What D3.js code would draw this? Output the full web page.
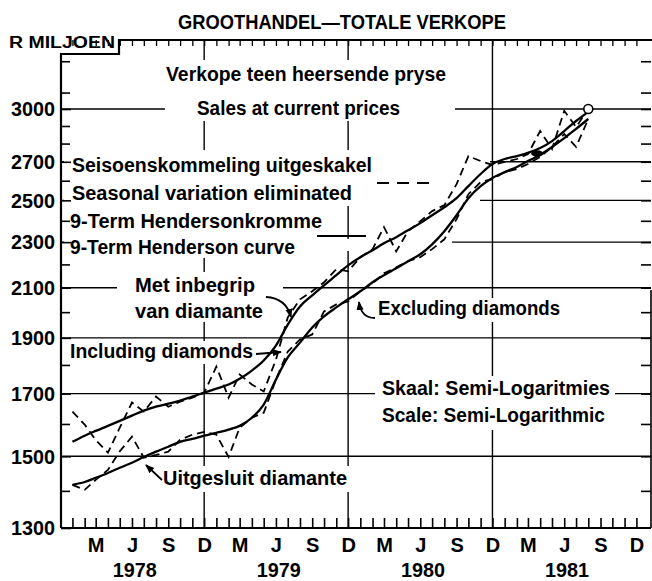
<!DOCTYPE html>
<html><head><meta charset="utf-8">
<script src="https://cdn.jsdelivr.net/npm/d3@7"></script>
<style>
body{margin:0;background:#fff;}
svg{display:block;background:#fff;}
text{font-family:"Liberation Sans",Arial,sans-serif;font-weight:bold;fill:#000;}
</style></head><body><svg id="c" width="652" height="581"></svg>
<script>
// ---------- data ----------
const months = ["1978-01","1978-02","1978-03","1978-04","1978-05","1978-06","1978-07","1978-08","1978-09","1978-10","1978-11","1978-12",
"1979-01","1979-02","1979-03","1979-04","1979-05","1979-06","1979-07","1979-08","1979-09","1979-10","1979-11","1979-12",
"1980-01","1980-02","1980-03","1980-04","1980-05","1980-06","1980-07","1980-08","1980-09","1980-10","1980-11","1980-12",
"1981-01","1981-02","1981-03","1981-04","1981-05","1981-06","1981-07","1981-08"];
// Including diamonds: seasonally adjusted (dashed) and 9-term Henderson (solid)
const inclActual = [1640,1598,1550,1511,1588,1670,1640,1690,1656,1673,1686,1703,
1794,1686,1766,1731,1707,1819,1979,2052,2085,2123,2179,2170,
2232,2268,2370,2258,2351,2398,2447,2476,2582,2731,2704,2683,
2699,2715,2742,2871,2770,2989,2894,3000];
const inclTrend = [1544,1563,1578,1594,1610,1627,1643,1656,1666,1676,1690,1703,
1717,1731,1751,1780,1816,1871,1951,2023,2068,2110,2153,2196,
2232,2263,2295,2323,2355,2389,2427,2466,2511,2572,2635,2688,
2715,2731,2748,2775,2814,2871,2929,2983];
// Excluding diamonds
const exclActual = [1417,1403,1431,1460,1515,1560,1496,1504,1514,1550,1566,1575,
1566,1498,1588,1620,1636,1748,1849,1894,1913,2003,2031,2043,
2085,2118,2161,2187,2214,2232,2268,2313,2408,2531,2593,2608,
2645,2661,2688,2726,2781,2854,2781,2941];
const exclTrend = [1417,1425,1437,1451,1466,1481,1498,1514,1529,1544,1553,1563,
1572,1582,1594,1620,1663,1748,1827,1882,1940,1983,2019,2052,
2085,2123,2153,2183,2214,2245,2290,2351,2427,2511,2572,2614,
2645,2672,2704,2737,2781,2831,2883,2941];
const yLabels = [1300,1500,1700,1900,2100,2300,2500,2700,3000];
const yMinor = [1400,1600,1800,2000,2200,2400,2600,2800,2900,3100,3300];
const monthLetters = {2:"M",5:"J",8:"S",11:"D"};
const years = ["1978","1979","1980","1981"];

// ---------- setup ----------
const svg = d3.select("#c");
const parse = d3.timeParse("%Y-%m");
const dates = months.map(parse);
const x = d3.scaleTime().domain([new Date(1977,11,1), new Date(1982,0,7)]).range([60.2, 651]);
const y = d3.scaleLog().domain([1300,3000]).range([528,109]);
const L = 61, R = 651, B = 528, T = 40;

const defs = svg.append("defs");
defs.append("marker").attr("id","ah").attr("viewBox","0 0 10 10").attr("refX",9).attr("refY",5)
  .attr("markerUnits","userSpaceOnUse").attr("markerWidth",9).attr("markerHeight",9).attr("orient","auto")
  .append("path").attr("d","M0,1L10,5L0,9Z").attr("fill","#000");

// ---------- grid ----------
const grid = svg.append("g").attr("stroke","#000").attr("stroke-width",1.4);
yLabels.filter(v => v > 1300).forEach(v => {
  grid.append("line").attr("x1",L).attr("x2",R).attr("y1",y(v)).attr("y2",y(v));
});
[new Date(1978,11,1), new Date(1979,11,1), new Date(1980,11,1)].forEach(d => {
  grid.append("line").attr("x1",x(d)).attr("x2",x(d)).attr("y1",T).attr("y2",B);
});
// white patches where the lettering was pasted over the grid
const patches = [[165,60,455,121],[64,150,490,178],[64,178,480,206],[64,206,330,258],[330,239,452,251],
  [117,272,283,322],[66,341,256,364],[374,298,565,322],[375,376,615,430],[160,466,350,492]];
svg.append("g").selectAll("rect").data(patches).join("rect")
  .attr("x",d=>d[0]).attr("y",d=>d[1]).attr("width",d=>d[2]-d[0]).attr("height",d=>d[3]-d[1]).attr("fill","#fff");

// ---------- axes ----------
const monthTicks = d3.timeMonth.range(new Date(1978,0,1), new Date(1982,0,1));
const gB = svg.append("g").attr("transform",`translate(0,${B})`)
  .call(d3.axisBottom(x).tickValues(monthTicks).tickSizeInner(-10).tickSizeOuter(0).tickPadding(10)
    .tickFormat(d => monthLetters[d.getMonth()] || ""));
gB.select(".domain").remove();
gB.selectAll("line").attr("stroke-width",1.6);
gB.selectAll("text").attr("font-size",20).attr("font-family","Liberation Sans, Arial, sans-serif").attr("font-weight","bold");

const gT = svg.append("g").attr("transform",`translate(0,${T})`)
  .call(d3.axisTop(x).tickValues(monthTicks).tickSizeInner(-6).tickSizeOuter(0).tickFormat(""));
gT.select(".domain").remove();
gT.selectAll("line").attr("stroke-width",1.3);

const gL = svg.append("g").attr("transform",`translate(${L},0)`)
  .call(d3.axisLeft(y).tickValues(yLabels).tickSizeInner(-10).tickSizeOuter(0).tickPadding(6).tickFormat(d3.format("d")));
gL.select(".domain").remove();
gL.selectAll("line").attr("stroke-width",1.6);
gL.selectAll("text").attr("font-size",21).attr("font-family","Liberation Sans, Arial, sans-serif")
  .attr("font-weight","bold").attr("textLength",44).attr("lengthAdjust","spacingAndGlyphs");
const gLm = svg.append("g").attr("transform",`translate(${L},0)`)
  .call(d3.axisLeft(y).tickValues(yMinor).tickSizeInner(-9).tickSizeOuter(0).tickFormat(""));
gLm.select(".domain").remove();
gLm.selectAll("line").attr("stroke-width",1.6);
const gR = svg.append("g").attr("transform",`translate(${R},0)`)
  .call(d3.axisRight(y).tickValues(yMinor.concat(yLabels.slice(1))).tickSizeInner(-10).tickSizeOuter(0).tickFormat(""));
gR.select(".domain").remove();
gR.selectAll("line").attr("stroke-width",1.6);

const frame = svg.append("g").attr("stroke","#000").attr("stroke-width",2.2).attr("fill","none");
frame.append("path").attr("d",`M${L},${B}V54H119V${T}H652`);
frame.append("line").attr("x1",L).attr("x2",R).attr("y1",B).attr("y2",B);
frame.append("line").attr("x1",R).attr("x2",R).attr("y1",290).attr("y2",B).attr("stroke-width",1.6);

// year labels
svg.append("g").selectAll("text").data(years).join("text")
  .attr("x", d => x(new Date(+d,5,8))).attr("y",577).attr("text-anchor","middle")
  .attr("font-size",21).attr("textLength",44).attr("lengthAdjust","spacingAndGlyphs").text(d=>d);

// ---------- series ----------
const smooth = d3.line().x((d,i)=>x(dates[i])).y(d=>y(d)).curve(d3.curveMonotoneX);
const jag = d3.line().x((d,i)=>x(dates[i])).y(d=>y(d));
const lines = svg.append("g").attr("fill","none").attr("stroke","#000");
[inclActual, exclActual].forEach(s => lines.append("path").attr("d",jag(s))
  .attr("stroke-width",1.8).attr("stroke-dasharray","8,5"));
[inclTrend, exclTrend].forEach(s => lines.append("path").attr("d",smooth(s))
  .attr("stroke-width",2.3));
// end circle and blob
const last = dates.length-1;
svg.append("circle").attr("cx",x(dates[last])).attr("cy",y(inclActual[last])).attr("r",4.5)
  .attr("fill","#fff").attr("stroke","#000").attr("stroke-width",1.6);
svg.append("ellipse").attr("cx",x(dates[39])-3).attr("cy",(y(inclTrend[39])+y(exclTrend[39]))/2+2)
  .attr("rx",6).attr("ry",3.2).attr("fill","#000");

// legend keys
const keys = svg.append("g").attr("stroke","#000").attr("fill","none");
keys.append("line").attr("x1",377).attr("x2",434).attr("y1",183).attr("y2",183).attr("stroke-width",2).attr("stroke-dasharray","12,8");
keys.append("line").attr("x1",317).attr("x2",366).attr("y1",236).attr("y2",236).attr("stroke-width",2.2);

// arrows
const arr = svg.append("g").attr("stroke","#000").attr("fill","none").attr("stroke-width",1.8);
arr.append("path").attr("d","M256,354L281,352").attr("marker-end","url(#ah)");
arr.append("path").attr("d","M266,297Q286,298 291,317").attr("marker-end","url(#ah)");
arr.append("path").attr("d","M375,318Q361,318 359,302").attr("marker-end","url(#ah)");
arr.append("path").attr("d","M162,480L146,465").attr("marker-end","url(#ah)");

// ---------- lettering ----------
const notes = [
  ["GROOTHANDEL—TOTALE VERKOPE",178,29,328,21],
  ["R MILJOEN",9,48,106,16],
  ["Verkope teen heersende pryse",166,81,280,20],
  ["Sales at current prices",197,115,203,20],
  ["Seisoenskommeling uitgeskakel",72,172,300,20],
  ["Seasonal variation eliminated",72,200,280,20],
  ["9-Term Hendersonkromme",70,228,252,20],
  ["9-Term Henderson curve",70,254,225,20],
  ["Met inbegrip",135,292,120,20],
  ["van diamante",135,318,128,20],
  ["Including diamonds",70,358,183,20],
  ["Excluding diamonds",378,315,182,20],
  ["Skaal: Semi-Logaritmies",382,395,228,20],
  ["Scale: Semi-Logarithmic",382,422,223,20],
  ["Uitgesluit diamante",163,485,184,20]
];
svg.append("g").selectAll("text").data(notes).join("text")
  .attr("x",d=>d[1]).attr("y",d=>d[2]).attr("font-size",d=>d[4])
  .attr("textLength",d=>d[3]).attr("lengthAdjust","spacingAndGlyphs").text(d=>d[0]);
</script></body></html>
